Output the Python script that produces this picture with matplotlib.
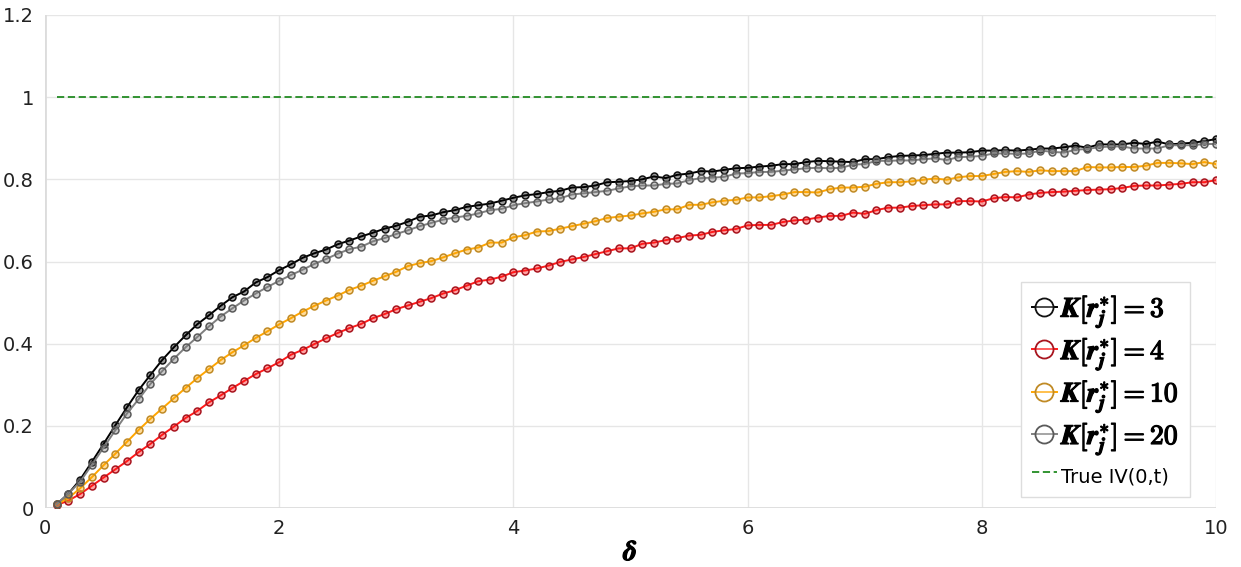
import numpy as np
import matplotlib
matplotlib.use("Agg")
import matplotlib.pyplot as plt
import matplotlib.patheffects as pe

# delta grid, 0.1 ... 10.0
delta = np.round(np.arange(1, 101) * 0.1, 1)

iv_k3 = [0.009, 0.035, 0.069, 0.112, 0.156, 0.201, 0.245, 0.287, 0.324, 0.360,
         0.391, 0.420, 0.447, 0.469, 0.492, 0.513, 0.527, 0.549, 0.562, 0.579,
         0.593, 0.609, 0.620, 0.629, 0.642, 0.651, 0.661, 0.670, 0.680, 0.687,
         0.697, 0.709, 0.712, 0.720, 0.725, 0.733, 0.737, 0.741, 0.748, 0.755,
         0.761, 0.764, 0.769, 0.772, 0.780, 0.781, 0.785, 0.793, 0.794, 0.796,
         0.800, 0.807, 0.803, 0.811, 0.814, 0.820, 0.819, 0.823, 0.827, 0.828,
         0.831, 0.833, 0.837, 0.837, 0.842, 0.845, 0.844, 0.843, 0.842, 0.849,
         0.849, 0.854, 0.857, 0.858, 0.859, 0.862, 0.865, 0.865, 0.866, 0.870,
         0.870, 0.871, 0.870, 0.872, 0.875, 0.875, 0.878, 0.882, 0.877, 0.885,
         0.885, 0.885, 0.889, 0.886, 0.892, 0.885, 0.887, 0.889, 0.893, 0.898]

iv_k4 = [0.007, 0.018, 0.034, 0.054, 0.074, 0.094, 0.114, 0.136, 0.156, 0.178,
         0.198, 0.219, 0.236, 0.257, 0.274, 0.292, 0.309, 0.326, 0.340, 0.355,
         0.373, 0.385, 0.399, 0.413, 0.426, 0.438, 0.448, 0.462, 0.472, 0.484,
         0.493, 0.502, 0.511, 0.522, 0.530, 0.541, 0.552, 0.556, 0.563, 0.574,
         0.578, 0.583, 0.590, 0.599, 0.605, 0.611, 0.618, 0.625, 0.632, 0.632,
         0.643, 0.646, 0.652, 0.657, 0.663, 0.665, 0.672, 0.676, 0.679, 0.688,
         0.689, 0.689, 0.696, 0.700, 0.702, 0.707, 0.711, 0.711, 0.719, 0.716,
         0.725, 0.731, 0.731, 0.735, 0.737, 0.739, 0.739, 0.747, 0.747, 0.746,
         0.754, 0.757, 0.756, 0.763, 0.767, 0.769, 0.770, 0.772, 0.774, 0.775,
         0.776, 0.779, 0.784, 0.785, 0.785, 0.787, 0.789, 0.793, 0.793, 0.798]

iv_k10 = [0.009, 0.024, 0.048, 0.075, 0.104, 0.132, 0.161, 0.190, 0.217, 0.242,
          0.267, 0.292, 0.316, 0.338, 0.360, 0.379, 0.396, 0.414, 0.430, 0.447,
          0.462, 0.478, 0.492, 0.505, 0.517, 0.531, 0.541, 0.553, 0.564, 0.575,
          0.589, 0.596, 0.601, 0.610, 0.620, 0.629, 0.634, 0.646, 0.646, 0.659,
          0.664, 0.673, 0.674, 0.680, 0.686, 0.692, 0.698, 0.706, 0.709, 0.712,
          0.717, 0.721, 0.727, 0.727, 0.738, 0.738, 0.744, 0.748, 0.750, 0.756,
          0.756, 0.759, 0.763, 0.769, 0.769, 0.768, 0.776, 0.780, 0.780, 0.782,
          0.789, 0.793, 0.793, 0.795, 0.799, 0.802, 0.799, 0.805, 0.808, 0.808,
          0.813, 0.818, 0.820, 0.818, 0.822, 0.820, 0.820, 0.820, 0.830, 0.829,
          0.829, 0.830, 0.830, 0.833, 0.840, 0.840, 0.839, 0.837, 0.842, 0.837]

iv_k20 = [0.009, 0.035, 0.064, 0.105, 0.147, 0.189, 0.230, 0.265, 0.302, 0.333,
          0.363, 0.391, 0.416, 0.442, 0.466, 0.486, 0.505, 0.522, 0.538, 0.553,
          0.567, 0.580, 0.594, 0.606, 0.619, 0.630, 0.636, 0.649, 0.657, 0.667,
          0.676, 0.686, 0.694, 0.702, 0.707, 0.711, 0.717, 0.725, 0.728, 0.737,
          0.742, 0.746, 0.751, 0.754, 0.763, 0.766, 0.769, 0.772, 0.778, 0.783,
          0.785, 0.785, 0.789, 0.790, 0.798, 0.803, 0.804, 0.806, 0.814, 0.815,
          0.818, 0.818, 0.821, 0.824, 0.827, 0.828, 0.827, 0.828, 0.836, 0.837,
          0.845, 0.845, 0.846, 0.846, 0.849, 0.851, 0.847, 0.854, 0.855, 0.857,
          0.863, 0.863, 0.862, 0.863, 0.870, 0.867, 0.865, 0.872, 0.874, 0.878,
          0.880, 0.880, 0.875, 0.875, 0.875, 0.883, 0.883, 0.883, 0.886, 0.886]

true_iv = 1.0
k_labels = ['3', '4', '10', '20']

plt.rcParams['font.family'] = ['DejaVu Sans']
plt.rcParams['mathtext.fontset'] = 'cm'

fig = plt.figure(figsize=(12.41, 5.67), dpi=100)
ax = fig.add_axes([45 / 1241, 59 / 567, 1171 / 1241, 493 / 567])

# line colour, marker edge colour
styles = [('#000000', '#111111'),
          ('#ff1a1a', '#a8141e'),
          ('#ffa500', '#c08a25'),
          ('#7f7f7f', '#5a5a5a')]

for yvals, k, (lc, ec) in zip([iv_k3, iv_k4, iv_k10, iv_k20], k_labels, styles):
    lab = (r'$\boldsymbol{K}\mathbf{[}\boldsymbol{r}_{\boldsymbol{j}}^{\mathbf{*}}'
           r'\mathbf{]} \mathbf{=} \mathbf{' + k + '}$')
    ax.plot(delta, yvals, color=lc, lw=1.4, marker='o', ms=5,
            mfc=matplotlib.colors.to_rgba(lc, 0.4), mec=ec, mew=1.1,
            label=lab, zorder=3)

ax.plot([delta[0], delta[-1]], [true_iv, true_iv], color='#228b22', lw=1.3,
        ls=(0, (4, 2)), label='True IV(0,t)', zorder=3)

ax.set_xlim(0, 10)
ax.set_ylim(0, 1.2)
ax.set_xticks([0, 2, 4, 6, 8, 10])
ax.set_yticks([0, 0.2, 0.4, 0.6, 0.8, 1.0, 1.2])
ax.set_yticklabels(['0', '0.2', '0.4', '0.6', '0.8', '1', '1.2'])
ax.tick_params(length=0, labelsize=14, colors='#222222', pad=8)
ax.grid(True, color='#e6e6e6', lw=1)
ax.set_axisbelow(True)
for s in ax.spines.values():
    s.set_visible(False)
ax.axhline(0, color='#dcdcdc', lw=2, zorder=1)
ax.axvline(0, color='#dcdcdc', lw=2, zorder=1)

heavy = [pe.withStroke(linewidth=0.9, foreground='black')]
xl = ax.set_xlabel(r'$\boldsymbol{\delta}$', fontsize=20, labelpad=0)
xl.set_path_effects(heavy)

leg = ax.legend(loc='lower right', bbox_to_anchor=(0.978, 0.022), fontsize=20,
                frameon=True, fancybox=False, edgecolor='#dddddd',
                handlelength=0.9, handletextpad=0.15, labelspacing=0.2,
                borderpad=0.4, borderaxespad=0, framealpha=1)
leg.get_frame().set_linewidth(1)
for t in leg.get_texts()[:4]:
    t.set_path_effects(heavy)
leg.get_texts()[4].set_fontsize(14)
for h in leg.legend_handles[:4]:
    h.set_markersize(13)
    h.set_markeredgewidth(1.3)
    h.set_markerfacecolor((1, 1, 1, 0.3))

fig.savefig('out.png', dpi=100)
